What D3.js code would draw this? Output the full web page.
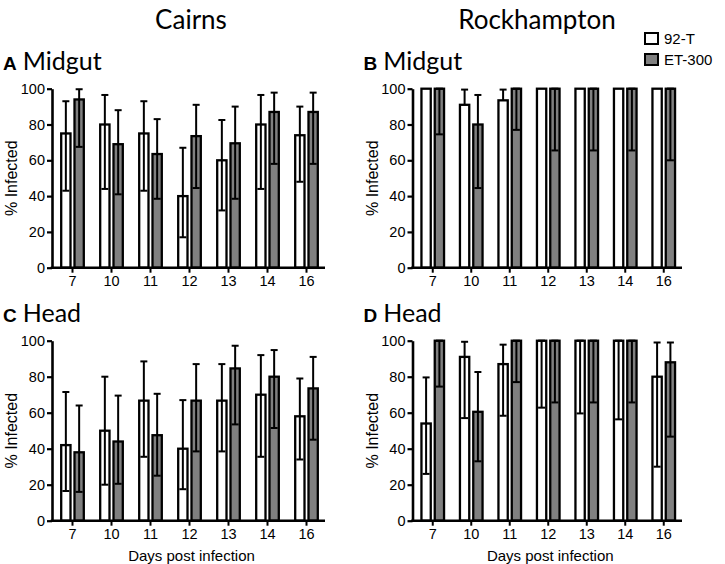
<!DOCTYPE html>
<html lang="en">
    <head>
        <meta charset="utf-8">
        <title>Percent infected by day</title>
        <script src="https://d3js.org/d3.v7.min.js"></script>
        <style type="text/css">
            body { margin: 0; background: white; }
            .axis path, .axis line { stroke: black; }
        </style>
    </head>
    <body>
        <svg width="725" height="564"></svg>
        <script type="text/javascript">

            const days = ["7", "10", "11", "12", "13", "14", "16"];
            const yTicks = [0, 20, 40, 60, 80, 100];
            const seriesNames = ["92-T", "ET-300"];

            // A - Cairns midgut
            const a92 = [75, 80, 75, 40, 60, 80, 74];
            const a92Lo = [43, 44, 43, 17, 32, 44, 48];
            const a92Hi = [93, 96.5, 93, 67, 82.5, 96.5, 90];
            const aET = [94, 69, 63.5, 73.5, 69.5, 87, 87];
            const aETLo = [67.5, 41, 38.5, 44.5, 38.5, 58, 58];
            const aETHi = [99.7, 88, 83, 91, 90, 97.8, 97.8];

            // B - Rockhampton midgut
            const b92 = [100, 91, 93.5, 100, 100, 100, 100];
            const b92Lo = [null, null, null, null, null, null, null];
            const b92Hi = [null, 99.5, 99.5, null, null, null, null];
            const bET = [100, 80, 100, 100, 100, 100, 100];
            const bETLo = [74.5, 44.5, 77, 65.5, 65.5, 65.5, 60];
            const bETHi = [100, 96.5, 100, 100, 100, 100, 100];

            // C - Cairns head
            const c92 = [42, 50, 66.7, 40, 66.7, 70, 58];
            const c92Lo = [16.5, 20, 35.5, 17.5, 38.5, 35.5, 34];
            const c92Hi = [71.5, 80, 88.5, 67, 87, 92, 79];
            const cET = [38, 44, 47.5, 66.7, 84.6, 80, 73.5];
            const cETLo = [16, 20.5, 25, 38.5, 53.5, 51.5, 45];
            const cETHi = [64, 69.5, 70.5, 87, 97.2, 94.8, 91];

            // D - Rockhampton head
            const d92 = [54, 91, 87, 100, 100, 100, 80];
            const d92Lo = [26, 57, 58.3, 62.8, 59.6, 56.3, 30];
            const d92Hi = [79.6, 99.4, 97.8, 100, 100, 100, 99];
            const dET = [100, 60.5, 100, 100, 100, 100, 88];
            const dETLo = [74.5, 33, 77, 65.7, 65.7, 65.7, 46.7];
            const dETHi = [100, 82.6, 100, 100, 100, 100, 99];

            const svg = d3.select("svg");
            const fills = ["white", "#808080"];
            const titleFont = "Lato, 'Open Sans', sans-serif";
            const arial = "'Liberation Sans', Arial, sans-serif";

            const panels = [
                {letter: "A", name: "Midgut", x0: 52, w: 273, top: 88.7, bottom: 267.7, xlabel: false,
                 s: [[a92, a92Lo, a92Hi], [aET, aETLo, aETHi]]},
                {letter: "B", name: "Midgut", x0: 412.5, w: 269.5, top: 88.7, bottom: 267.7, xlabel: false,
                 s: [[b92, b92Lo, b92Hi], [bET, bETLo, bETHi]]},
                {letter: "C", name: "Head", x0: 52, w: 273, top: 340.7, bottom: 520.7, xlabel: true,
                 s: [[c92, c92Lo, c92Hi], [cET, cETLo, cETHi]]},
                {letter: "D", name: "Head", x0: 412.5, w: 269.5, top: 340.7, bottom: 520.7, xlabel: true,
                 s: [[d92, d92Lo, d92Hi], [dET, dETLo, dETHi]]}
            ];

            panels.forEach(p => {
                const x = d3.scaleBand().domain(days).range([p.x0 + 1, p.x0 + p.w + 1]);
                const y = d3.scaleLinear().domain([0, 100]).range([p.bottom, p.top]);
                const g = svg.append("g");

                // bars
                p.s.forEach((ser, k) => {
                    const vals = ser[0], lo = ser[1], hi = ser[2];
                    const off = k === 0 ? -11.3 : 2;
                    g.selectAll(null)
                        .data(days)
                        .enter()
                        .append("rect")
                        .attr("x", d => x(d) + x.bandwidth() / 2 + off)
                        .attr("y", (d, i) => y(vals[i]))
                        .attr("width", 9.3)
                        .attr("height", (d, i) => y(0) - y(vals[i]))
                        .style("fill", fills[k])
                        .style("stroke", "black")
                        .style("stroke-width", 2.3);

                    // error bars
                    days.forEach((d, i) => {
                        const cx = x(d) + x.bandwidth() / 2 + off + 4.65;
                        const from = lo[i] == null ? vals[i] : lo[i];
                        const to = hi[i] == null ? vals[i] : hi[i];
                        if (lo[i] == null && hi[i] == null) return;
                        g.append("line")
                            .attr("x1", cx).attr("x2", cx)
                            .attr("y1", y(from)).attr("y2", y(to))
                            .style("stroke", "black").style("stroke-width", 2);
                        [lo[i], hi[i]].forEach(v => {
                            if (v == null) return;
                            g.append("line")
                                .attr("x1", cx - 3.5).attr("x2", cx + 3.5)
                                .attr("y1", y(v)).attr("y2", y(v))
                                .style("stroke", "black").style("stroke-width", 2);
                        });
                    });
                });

                // axes
                const yAxis = g.append("g")
                    .attr("class", "axis")
                    .attr("transform", `translate(${p.x0},0)`)
                    .call(d3.axisLeft(y).tickValues(yTicks).tickSize(5).tickPadding(2).tickSizeOuter(0));
                yAxis.select(".domain").style("stroke-width", 2.6);
                yAxis.selectAll(".tick line").style("stroke-width", 2.2);

                const xAxis = g.append("g")
                    .attr("class", "axis")
                    .attr("transform", `translate(0,${p.bottom})`)
                    .call(d3.axisBottom(x).tickSize(5).tickPadding(3).tickSizeOuter(0));
                xAxis.select(".domain")
                    .attr("d", `M${p.x0 - 1.3},0H${p.x0 + p.w}`)
                    .style("stroke-width", 2.6);
                xAxis.selectAll(".tick line").style("stroke-width", 2);

                g.selectAll(".tick text")
                    .style("font-family", arial)
                    .style("font-size", "14.5px")
                    .style("fill", "black");

                // y label
                g.append("text")
                    .attr("transform", `translate(${p.x0 - 35},${(p.top + p.bottom) / 2}) rotate(-90)`)
                    .attr("text-anchor", "middle")
                    .style("font-family", arial)
                    .style("font-size", "16px")
                    .text("% Infected");

                if (p.xlabel) {
                    g.append("text")
                        .attr("x", p.x0 + p.w / 2 + 3)
                        .attr("y", p.bottom + 40)
                        .attr("text-anchor", "middle")
                        .style("font-family", arial)
                        .style("font-size", "15px")
                        .text("Days post infection");
                }

                // panel title
                const t = svg.append("text")
                    .attr("x", p.x0 - 49)
                    .attr("y", p.top - 18.7);
                t.append("tspan")
                    .style("font-family", arial)
                    .style("font-weight", "bold")
                    .style("font-size", "19px")
                    .text(p.letter);
                t.append("tspan")
                    .attr("dx", 6)
                    .style("font-family", titleFont)
                    .style("font-size", "25px")
                    .text(p.name);
            });

            // site titles
            [["Cairns", 191], ["Rockhampton", 537]].forEach(s => {
                svg.append("text")
                    .attr("x", s[1])
                    .attr("y", 29)
                    .attr("text-anchor", "middle")
                    .style("font-family", titleFont)
                    .style("font-size", "26px")
                    .text(s[0]);
            });

            // legend
            const legend = svg.append("g").attr("transform", "translate(645,33)");
            seriesNames.forEach((n, i) => {
                legend.append("rect")
                    .attr("x", 0)
                    .attr("y", i * 21)
                    .attr("width", 13)
                    .attr("height", 11)
                    .style("fill", fills[i])
                    .style("stroke", "black")
                    .style("stroke-width", 2);
                legend.append("text")
                    .attr("x", 19)
                    .attr("y", i * 21 + 11)
                    .style("font-family", arial)
                    .style("font-size", "15px")
                    .text(n);
            });

        </script>
    </body>
</html>
